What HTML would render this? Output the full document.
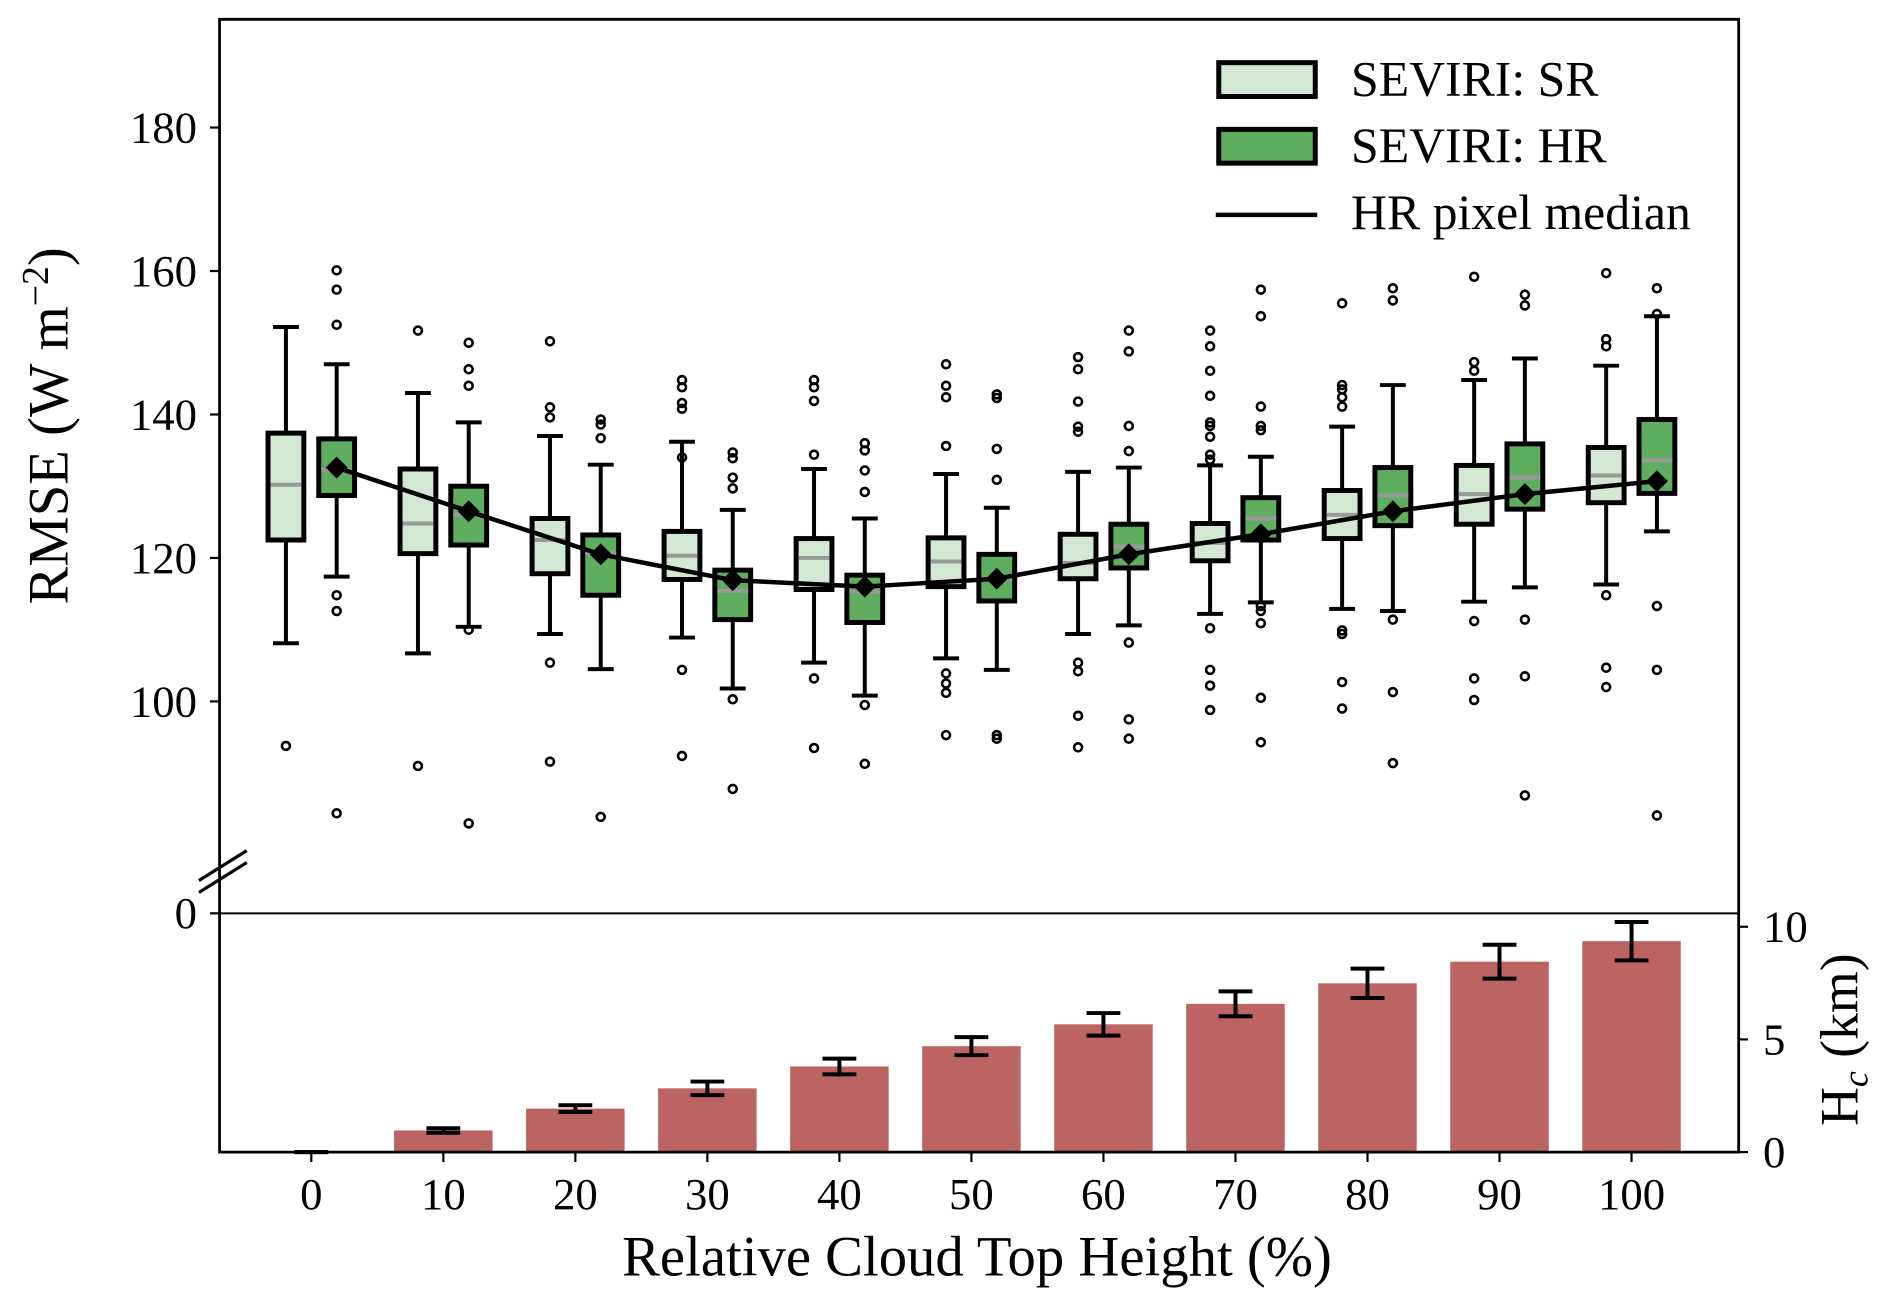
<!DOCTYPE html>
<html><head><meta charset="utf-8"><style>
html,body{margin:0;padding:0;background:#fff;}
svg{display:block;font-family:"Liberation Serif",serif;}
</style></head><body>
<svg id="chart" width="1892" height="1305" viewBox="0 0 1892 1305" xmlns="http://www.w3.org/2000/svg">
<rect width="1892" height="1305" fill="#fff"/>
<g transform="scale(0.9949)">
<g id="bars"></g>
<g id="boxes"></g>
<g id="axes"></g>
<g id="legend">
  <rect x="1225" y="63" width="97" height="34" fill="#d3e8d2" stroke="#000" stroke-width="5"/>
  <text x="1358" y="96" font-size="50">SEVIRI: SR</text>
  <rect x="1225" y="130" width="97" height="34" fill="#5fae5f" stroke="#000" stroke-width="5"/>
  <text x="1358" y="163" font-size="50">SEVIRI: HR</text>
  <line x1="1222" y1="216" x2="1324" y2="216" stroke="#000" stroke-width="4.5"/>
  <text x="1358" y="230" font-size="50">HR pixel median</text>
</g>
</g>
</svg>
<script>
const categories=[0,10,20,30,40,50,60,70,80,90,100];
// SR boxes: [whiskerLow, q1, median, q3, whiskerHigh]
const srStats=[[108.1,122.5,130.2,137.4,152.2],[106.7,120.6,124.8,132.4,143],[109.4,117.8,122.5,125.5,137],[108.9,117,120.3,123.7,136.2],[105.4,115.6,120,122.7,132.4],[106,116,119.5,122.8,131.7],[109.4,117.1,119.3,123.3,132],[112.2,119.6,122.1,124.8,132.9],[112.9,122.7,126,129.4,138.3],[113.9,124.7,128.9,132.9,144.8],[116.3,127.7,131.5,135.4,146.8]];
const srOutliers=[[93.8],[151.7,91],[150.2,141,139.6,105.4,91.6],[144.8,143.8,141.6,140.8,134,104.4,92.4],[144.8,143.8,141.9,134.4,103.2,93.5],[147,144,142.4,135.6,103.9,102.5,101.2,95.3],[148,146.3,141.8,138.3,137.6,105.4,104.2,98,93.6],[151.7,149.5,146.1,142.6,138.9,138.4,136.9,134.4,133.7,110.2,104.4,102.2,98.8],[155.5,144.1,143.5,142.4,141.1,109.9,109.4,102.7,99],[159.2,147.3,146.1,111.2,103.2,100.2],[159.7,150.5,149.5,114.8,104.7,102]];
const hrStats=[[117.4,128.7,132.2,136.6,147],[110.4,121.8,126,130,138.9],[104.5,114.8,120.6,123.2,133],[101.8,111.4,115.4,118.3,126.7],[100.8,111,115.3,117.6,125.5],[104.4,114,117.1,120.5,127],[110.6,118.6,121.6,124.7,132.6],[113.8,122.5,125.5,128.4,134.1],[112.6,124.5,128.7,132.6,144.1],[115.9,126.8,131.2,135.9,147.8],[123.7,129,133.6,139.3,153.7]];
const hrOutliers=[[160.1,157.4,152.5,114.8,112.6,84.4],[150,146.3,144,110,83],[139.3,138.6,136.7,83.9],[134.7,133.9,131.2,129.7,100.3,87.8],[136,135,132.2,129.2,99.5,91.3],[142.8,142.3,135.2,130.9,95.3,94.8],[151.7,148.8,138.4,134.9,108.2,97.5,94.8],[157.4,153.7,141.1,138.4,137.8,113.3,112.6,110.9,100.5,94.3],[157.6,155.9,111.4,101.3,91.4],[156.7,155.2,111.4,103.5,86.9],[157.6,154,113.3,104.4,84.1]];
const hrMeans=[132.6,126.5,120.5,116.9,116,117.1,120.5,123.3,126.5,128.9,130.7];
const heights=[0,0.96,1.93,2.83,3.8,4.7,5.67,6.58,7.49,8.45,9.36];
const heightErr=[0,0.1,0.15,0.3,0.35,0.4,0.5,0.55,0.65,0.75,0.85];
const rmseTicks=[100,120,140,160,180];
const hcTicks=[0,5,10];

const NS="http://www.w3.org/2000/svg";
const X=c=>312.9+c*13.27;
const Y=v=>705-(v-100)*7.21;
const YB=h=>1158-h*22.65;
function mk(tag,attrs,parent,text){const e=document.createElementNS(NS,tag);for(const k in attrs)e.setAttribute(k,attrs[k]);if(text!==undefined)e.textContent=text;parent.appendChild(e);return e;}
const gB=document.getElementById('bars'),gX=document.getElementById('boxes'),gA=document.getElementById('axes');

categories.forEach((c,i)=>{
  const x=X(c),w=99;
  const r=mk('rect',{x:x-w/2,y:YB(heights[i]),width:w,height:Math.max(0,YB(0)-YB(heights[i])),fill:'#bc6461'},gB);
  
  
  const lo=YB(heights[i]-heightErr[i]),hi=YB(heights[i]+heightErr[i]);
  const eg=mk('g',{stroke:'#000','stroke-width':4},gB);
  
  
  mk('line',{x1:x,y1:lo,x2:x,y2:hi},eg);
  mk('line',{x1:x-17,y1:lo,x2:x+17,y2:lo},eg);
  mk('line',{x1:x-17,y1:hi,x2:x+17,y2:hi},eg);
});

function box(cx,s,outs,fill,name){
  const g=mk('g',{},gX);
  
  
  const w=36;
  mk('line',{x1:cx,y1:Y(s[0]),x2:cx,y2:Y(s[1]),stroke:'#000','stroke-width':4},g);
  mk('line',{x1:cx,y1:Y(s[3]),x2:cx,y2:Y(s[4]),stroke:'#000','stroke-width':4},g);
  mk('line',{x1:cx-w/2+5,y1:Y(s[0]),x2:cx+w/2-5,y2:Y(s[0]),stroke:'#000','stroke-width':4},g);
  mk('line',{x1:cx-w/2+5,y1:Y(s[4]),x2:cx+w/2-5,y2:Y(s[4]),stroke:'#000','stroke-width':4},g);
  mk('rect',{x:cx-w/2,y:Y(s[3]),width:w,height:Y(s[1])-Y(s[3]),fill:fill,stroke:'#000','stroke-width':5},g);
  mk('line',{x1:cx-w/2+2.5,y1:Y(s[2]),x2:cx+w/2-2.5,y2:Y(s[2]),stroke:'#999','stroke-width':4},g);
  outs.forEach(o=>mk('circle',{cx:cx,cy:Y(o),r:4,fill:'none',stroke:'#000','stroke-width':2.6},g));
}
categories.forEach((c,i)=>{
  box(X(c)-25.5,srStats[i],srOutliers[i],'#d3e8d2','box-sr-'+c);
  box(X(c)+25.5,hrStats[i],hrOutliers[i],'#5fae5f','box-hr-'+c);
});
const pts=categories.map((c,i)=>(X(c)+25.5)+','+Y(hrMeans[i])).join(' ');
const pl=mk('polyline',{points:pts,fill:'none',stroke:'#000','stroke-width':4.5,'stroke-linejoin':'round'},gX);


categories.forEach((c,i)=>{
  const x=X(c)+25.5,y=Y(hrMeans[i]);
  const d=mk('polygon',{points:`${x},${y-11} ${x+11},${y} ${x},${y+11} ${x-11},${y}`,fill:'#000'},gX);
  
  
});

const frame=mk('path',{d:'M220.7,19.4 H1747.6 V1158 H220.7 Z',fill:'none',stroke:'#000','stroke-width':2.8},gA);


const zl=mk('line',{x1:220.7,y1:918,x2:1747.6,y2:918,stroke:'#000','stroke-width':2},gA);


const brk=mk('path',{d:'M200,897 L248,867 M200,885 L248,855',stroke:'#000','stroke-width':3.2,fill:'none'},gA);


const z0=mk('text',{x:198,y:933,'font-size':45,'text-anchor':'end'},gA,'0');


mk('line',{x1:211,y1:918,x2:220.7,y2:918,stroke:'#000','stroke-width':2.2},gA);
rmseTicks.forEach(v=>{
  mk('line',{x1:211,y1:Y(v),x2:220.7,y2:Y(v),stroke:'#000','stroke-width':2.2},gA);
  const t=mk('text',{x:198,y:Y(v)+15,'font-size':45,'text-anchor':'end'},gA,String(v));
  
  
});
hcTicks.forEach(v=>{
  mk('line',{x1:1747.6,y1:YB(v),x2:1757,y2:YB(v),stroke:'#000','stroke-width':2.2},gA);
  const t=mk('text',{x:1772,y:YB(v)+15,'font-size':45},gA,String(v));
  
  
});
categories.forEach(c=>{
  mk('line',{x1:X(c),y1:1158,x2:X(c),y2:1168,stroke:'#000','stroke-width':2.2},gA);
  const t=mk('text',{x:X(c),y:1215,'font-size':45,'text-anchor':'middle'},gA,String(c));
  
  
});
const xt=mk('text',{x:982,y:1282,'font-size':57,'text-anchor':'middle'},gA,'Relative Cloud Top Height (%)');


const yt=mk('text',{x:0,y:0,'font-size':57,'text-anchor':'middle',transform:'translate(68,428) rotate(-90)'},gA);


yt.innerHTML='RMSE (W m<tspan dy="-20" font-size="38">−2</tspan><tspan dy="20">)</tspan>';
const rt=mk('text',{x:0,y:0,'font-size':54,'text-anchor':'middle',transform:'translate(1867,1045) rotate(-90)'},gA);


rt.innerHTML='H<tspan dy="10" font-size="36" font-style="italic">c</tspan><tspan dy="-10"> (km)</tspan>';
</script>
</body></html>
